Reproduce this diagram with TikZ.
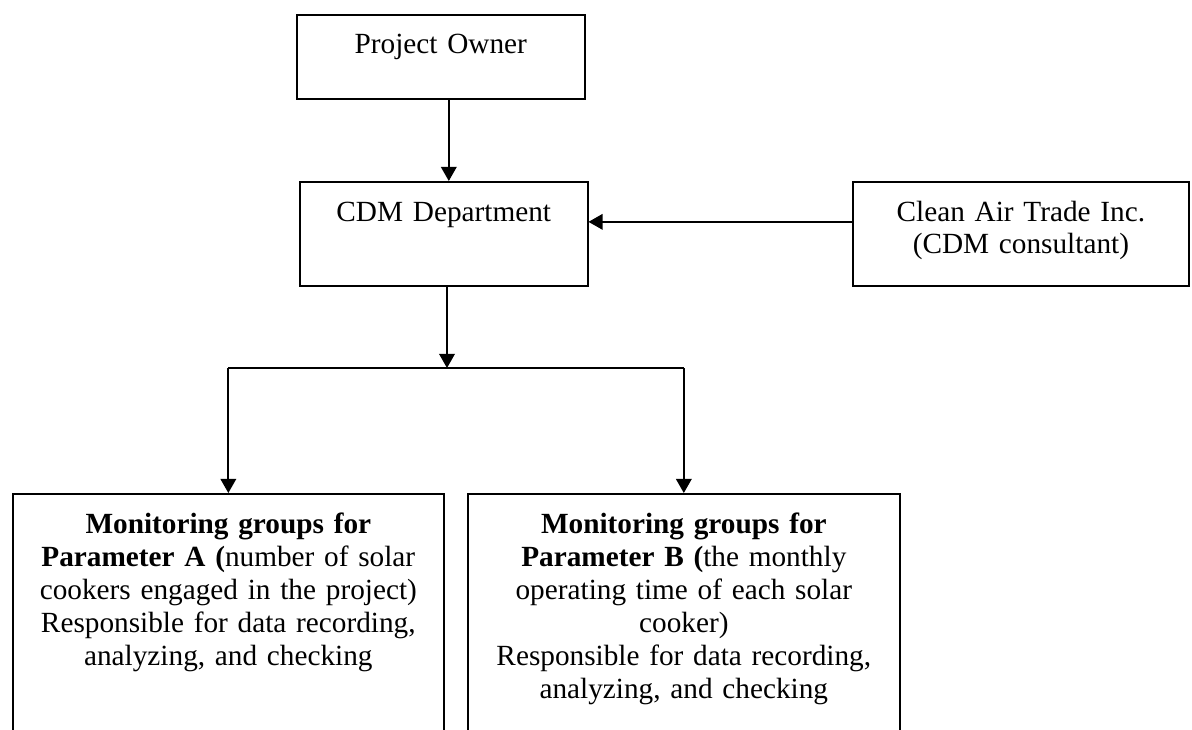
\documentclass[tikz,border=0pt]{standalone}
\usepackage{fontspec}
\setmainfont{Liberation Serif}
\usetikzlibrary{arrows.meta}

\tikzset{
  orgbox/.style={draw, line width=0.7pt, inner sep=0pt, align=center,
    anchor=north west, font=\fontsize{12}{13.5}\selectfont, text height=16.4pt},
  arr/.style={line width=0.7pt, -{Triangle[length=5.8pt,width=6.4pt]}}
}

\begin{document}
\begin{tikzpicture}[x=0.41pt, y=-0.41pt]
\useasboundingbox (0,0) rectangle (1192,729);
\clip (0,0) rectangle (1192,729);

\node[orgbox, text width=118pt, text height=16pt, text depth=18.4pt] (owner) at (296,14) {Project Owner};
\node[orgbox, text width=118pt, text depth=26.2pt] (cdm) at (299,181) {CDM Department};
\node[orgbox, text width=137.8pt, text depth=26.2pt, font=\fontsize{12}{12.8}\selectfont] (consult) at (852,181)
  {Clean Air Trade Inc.\\ (CDM consultant)};

\node[orgbox, text width=176.7pt, text depth=110pt] (groupA) at (12,493)
  {\textbf{Monitoring groups for}\\ \textbf{Parameter A (}number of solar\\ cookers engaged in the project)\\
   Responsible for data recording,\\ analyzing, and checking};
\node[orgbox, text width=177.1pt, text depth=110pt] (groupB) at (467,493)
  {\textbf{Monitoring groups for}\\ \textbf{Parameter B (}the monthly\\ operating time of each solar\\ cooker)\\
   Responsible for data recording,\\ analyzing, and checking};

\draw[arr] ([xshift=3.3pt]owner.south) -- ([xshift=3.3pt]owner.south |- cdm.north);
\draw[arr] (consult.base west) -- (cdm.base east);

\coordinate (split) at (447,368);
\draw[arr] (cdm.south -| split) -- (split);
\draw[line width=0.7pt] (groupA.north |- split) -- (groupB.north |- split);
\draw[arr] (groupA.north |- split) -- (groupA.north);
\draw[arr] (groupB.north |- split) -- (groupB.north);

\end{tikzpicture}
\end{document}
